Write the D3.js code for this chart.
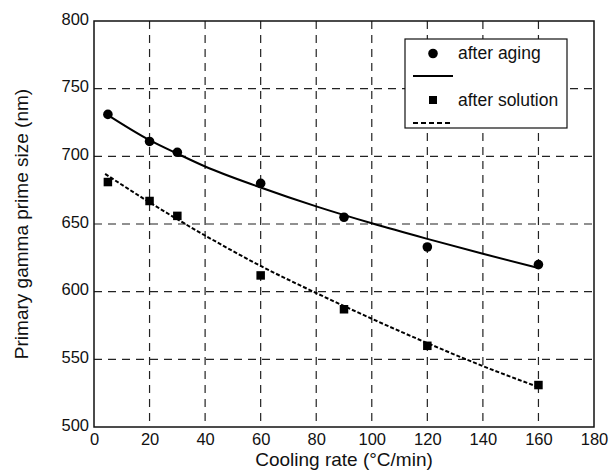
<!DOCTYPE html>
<html>
<head>
<meta charset="utf-8">
<script src="https://cdn.jsdelivr.net/npm/d3@7"></script>
<style>
  body { margin: 0; background: #fff; }
  text { font-family: "Liberation Sans", Arial, sans-serif; fill: #111; }
</style>
</head>
<body>
<svg id="chart" width="614" height="472"></svg>
<script>
// measured points
const coolingRates = [5, 20, 30, 60, 90, 120, 160];
const afterAging = [731, 711, 703, 680, 655, 633, 620];
const afterSolution = [681, 667, 656, 612, 587, 560, 531];

// fitted curves
const agingFitX = [5, 20, 30, 40, 60, 80, 100, 120, 140, 160];
const agingFitY = [730.5, 712, 702, 692.5, 677, 663, 650.5, 639, 628, 617.5];
const solutionFitX = [4, 20, 30, 40, 60, 80, 100, 120, 140, 160];
const solutionFitY = [687, 666, 653.5, 641.5, 619, 599, 580, 562, 545, 529.5];

const xTicks = [0, 20, 40, 60, 80, 100, 120, 140, 160, 180];
const yTicks = [500, 550, 600, 650, 700, 750, 800];
const legendLabels = ["after aging", "after solution"];

function drawChart() {
  const margin = { top: 21, left: 94, right: 20, bottom: 45 };
  const width = 614 - margin.left - margin.right;
  const height = 472 - margin.top - margin.bottom;

  const svg = d3.select("#chart")
    .append("g")
    .attr("transform", `translate(${margin.left}, ${margin.top})`);

  const x = d3.scaleLinear().domain([0, 180]).range([0, width]);
  const y = d3.scaleLinear().domain([500, 800]).range([height, 0]);

  // grid
  svg.append("g")
    .selectAll("line")
    .data(xTicks.slice(1, -1))
    .join("line")
    .attr("x1", d => x(d)).attr("x2", d => x(d))
    .attr("y1", 0).attr("y2", height)
    .attr("stroke", "#222").attr("stroke-width", 1.2)
    .attr("stroke-dasharray", "8 6");

  svg.append("g")
    .selectAll("line")
    .data(yTicks.slice(1, -1))
    .join("line")
    .attr("y1", d => y(d)).attr("y2", d => y(d))
    .attr("x1", 0).attr("x2", width)
    .attr("stroke", "#222").attr("stroke-width", 1.2)
    .attr("stroke-dasharray", "8 6");

  // axes (labels only, no tick marks)
  const xAxis = svg.append("g")
    .attr("transform", `translate(0, ${height})`)
    .call(d3.axisBottom(x).tickValues(xTicks).tickSize(0).tickPadding(6));
  const yAxis = svg.append("g")
    .call(d3.axisLeft(y).tickValues(yTicks).tickSize(0).tickPadding(5));
  [xAxis, yAxis].forEach(a => {
    a.select(".domain").remove();
    a.selectAll("text").attr("font-size", 16.5).attr("fill", "#111")
      .attr("font-family", "'Liberation Sans', Arial, sans-serif");
  });
  yAxis.selectAll("text").attr("dy", "0.2em");

  // frame
  svg.append("rect")
    .attr("x", 0).attr("y", 0).attr("width", width).attr("height", height)
    .attr("fill", "none").attr("stroke", "#111").attr("stroke-width", 1.5);

  // fitted lines
  const line = d3.line()
    .x(d => x(d[0]))
    .y(d => y(d[1]))
    .curve(d3.curveMonotoneX);

  svg.append("path")
    .datum(agingFitX.map((d, i) => [d, agingFitY[i]]))
    .attr("d", line)
    .attr("fill", "none").attr("stroke", "#000").attr("stroke-width", 2);

  svg.append("path")
    .datum(solutionFitX.map((d, i) => [d, solutionFitY[i]]))
    .attr("d", line)
    .attr("fill", "none").attr("stroke", "#000").attr("stroke-width", 2)
    .attr("stroke-dasharray", "4 2");

  // markers
  svg.append("g")
    .selectAll("circle")
    .data(coolingRates.map((d, i) => [d, afterAging[i]]))
    .join("circle")
    .attr("cx", d => x(d[0])).attr("cy", d => y(d[1]))
    .attr("r", 4.8).attr("fill", "#000");

  const sq = 8.5;
  svg.append("g")
    .selectAll("rect")
    .data(coolingRates.map((d, i) => [d, afterSolution[i]]))
    .join("rect")
    .attr("x", d => x(d[0]) - sq / 2).attr("y", d => y(d[1]) - sq / 2)
    .attr("width", sq).attr("height", sq).attr("fill", "#000");

  // axis titles
  svg.append("text")
    .attr("x", width / 2).attr("y", height + 39)
    .attr("text-anchor", "middle").attr("font-size", 19)
    .text("Cooling rate (°C/min)");

  svg.append("text")
    .attr("transform", `translate(${28 - margin.left}, ${height / 2}) rotate(-90)`)
    .attr("text-anchor", "middle").attr("font-size", 19)
    .text("Primary gamma prime size (nm)");

  // legend
  const lg = svg.append("g").attr("transform", `translate(${405 - margin.left}, ${39 - margin.top})`);
  lg.append("rect")
    .attr("width", 162).attr("height", 89)
    .attr("fill", "#fff").attr("stroke", "#111").attr("stroke-width", 1.2);

  lg.append("circle").attr("cx", 28).attr("cy", 14.5).attr("r", 4.8).attr("fill", "#000");
  lg.append("line").attr("x1", 8).attr("x2", 48).attr("y1", 37).attr("y2", 37)
    .attr("stroke", "#000").attr("stroke-width", 2);
  lg.append("rect").attr("x", 28 - 4).attr("y", 61 - 4).attr("width", 8).attr("height", 8).attr("fill", "#000");
  lg.append("line").attr("x1", 8).attr("x2", 48).attr("y1", 84).attr("y2", 84)
    .attr("stroke", "#000").attr("stroke-width", 2).attr("stroke-dasharray", "5 3");

  lg.selectAll("text.lbl")
    .data(legendLabels)
    .join("text")
    .attr("class", "lbl")
    .attr("x", 53).attr("y", (d, i) => 20 + i * 47)
    .attr("font-size", 17.5)
    .text(d => d);
}

drawChart();
</script>
</body>
</html>
